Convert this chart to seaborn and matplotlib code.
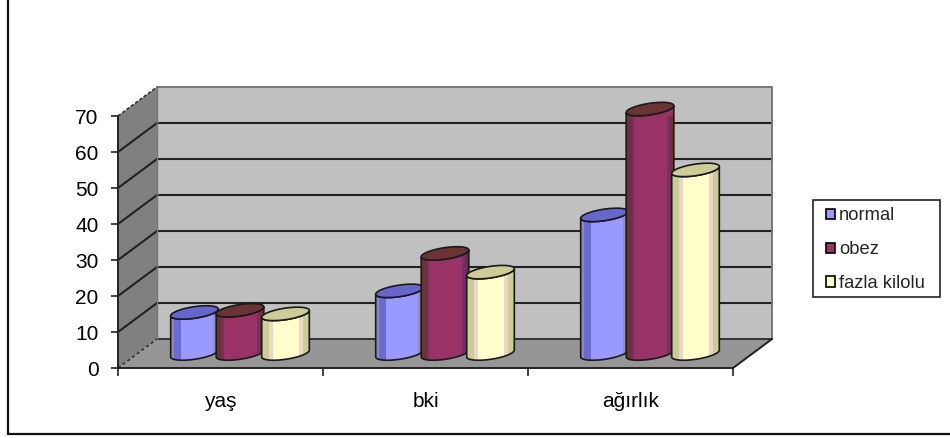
import numpy as np
import pandas as pd
import matplotlib
matplotlib.use("Agg")
import matplotlib.pyplot as plt
from matplotlib.lines import Line2D
from matplotlib.patches import Polygon, Rectangle
from matplotlib.path import Path
from matplotlib.transforms import Affine2D
import seaborn as sns

# Measurements by group
categories = ["yaş", "bki", "ağırlık"]
normal = [11.4, 17.4, 38.5]
obez = [12.0, 27.8, 67.9]
fazla_kilolu = [11.0, 22.6, 51.0]

series_names = ["normal", "obez", "fazla kilolu"]
series_values = [normal, obez, fazla_kilolu]

# Cylinder shading: main face and top cap for each series
face_colors = {"normal": "#9999ff", "obez": "#993366", "fazla kilolu": "#ffffcc"}
cap_colors = {"normal": "#6666cc", "obez": "#6b3333", "fazla kilolu": "#cccc99"}
# Vertical bands across the body, as (from, to, colour) in units of the cylinder radius
body_bands = {
    "normal": [(-1.0, -0.85, "#8a8ab8"), (-0.85, -0.58, "#6c6cd0"), (0.78, 1.0, "#8f8fbb")],
    "obez": [(-1.0, -0.77, "#6b3333"), (-0.77, -0.66, "#7b2d6b"),
             (0.72, 0.86, "#7b2d6b"), (0.86, 1.0, "#6b3333")],
    "fazla kilolu": [(-1.0, -0.70, "#cccc99"), (-0.70, -0.52, "#ecd6c6"),
                     (0.57, 0.75, "#ecd6c6"), (0.75, 1.0, "#cccc99")],
}

df = pd.DataFrame(
    [
        {"grup": cat, "seri": name, "deger": val}
        for name, vals in zip(series_names, series_values)
        for cat, val in zip(categories, vals)
    ]
)

W, H = 950, 438
sns.set_theme(style="white", rc={"font.family": ["Liberation Sans", "DejaVu Sans"]})
plt.rcParams["font.family"] = ["Liberation Sans", "DejaVu Sans"]

fig = plt.figure(figsize=(W / 100, H / 100), dpi=100, facecolor="white")
ax = fig.add_axes([118 / W, 1 - 368 / H, (733 - 118) / W, (368 - 116) / H])

sns.barplot(
    data=df, x="grup", y="deger", hue="seri", order=categories,
    hue_order=series_names, palette=face_colors, saturation=1,
    width=0.666, gap=0, edgecolor="black", linewidth=1.2, ax=ax,
)
ax.set_xlim(-0.5, 2.5)
ax.set_ylim(0, 70)
ax.patch.set_visible(False)
ax.set_xlabel("")
ax.set_ylabel("")

# Depth of the chart box, in screen pixels
DEPTH_X, DEPTH_Y = 39, 29
mid = ax.transData + Affine2D().translate(DEPTH_X / 2, DEPTH_Y / 2)

X0, X1 = -0.5, 2.5
Y_MAX = 70
dx_data = DEPTH_X / 205.0
dy_data = DEPTH_Y / (252.0 / 70)


def add_poly(points, color, z):
    poly = Polygon(points, closed=True, facecolor=color, edgecolor="none",
                   transform=ax.transData, clip_on=False, zorder=z)
    ax.add_patch(poly)
    return poly


bars = [p for p in ax.patches if p.get_height() > 0]

# Left wall, back wall and floor
add_poly([(X0, 0), (X0 + dx_data, dy_data), (X0 + dx_data, Y_MAX + dy_data), (X0, Y_MAX)], "#808080", 0.1)
add_poly([(X0 + dx_data, dy_data), (X1 + dx_data, dy_data),
          (X1 + dx_data, Y_MAX + dy_data), (X0 + dx_data, Y_MAX + dy_data)], "#c0c0c0", 0.1)
add_poly([(X0, 0), (X1, 0), (X1 + dx_data, dy_data), (X0 + dx_data, dy_data)], "#969696", 0.1)

# Gridlines run along the left wall, then across the back wall
ticks = np.arange(0, 80, 10)
for t in ticks[1:-1]:
    ax.plot([X0, X0 + dx_data, X1 + dx_data], [t, t + dy_data, t + dy_data],
            color="#222222", lw=1.5, clip_on=False, zorder=0.2, solid_joinstyle="miter")
ax.plot([X0 + dx_data, X1 + dx_data, X1 + dx_data, X1],
        [Y_MAX + dy_data, Y_MAX + dy_data, dy_data, 0],
        color="#707070", lw=1.3, clip_on=False, zorder=0.2)
ax.plot([X0, X0 + dx_data], [0, dy_data],
        color="#333333", lw=1.2, ls=(0, (2, 1.5)), clip_on=False, zorder=0.2)
ax.plot([X0 + dx_data, X1 + dx_data], [dy_data, dy_data], color="#333333", lw=1.4,
        clip_on=False, zorder=0.2)
ax.plot([X0 + dx_data, X0 + dx_data], [dy_data, Y_MAX + dy_data], color="#777777", lw=1,
        clip_on=False, zorder=0.2)
ax.plot([X0, X0 + dx_data], [Y_MAX, Y_MAX + dy_data], color="#333333", lw=1.2,
        ls=(0, (2, 1.2)), clip_on=False, zorder=0.2)
ax.plot([X1, X1 + dx_data], [0, dy_data], color="#222222", lw=1.3, clip_on=False, zorder=0.2)

# Cylinder outline in data units: an ellipse sheared to climb to the right
SEMI_A = 23.8 / 205.0
SEMI_B = 5.8 / (252.0 / 70)
RISE = 3.4 / (252.0 / 70)
theta = np.linspace(0, 2 * np.pi, 90)


def ring(cx, cy):
    return (cx + SEMI_A * np.cos(theta), cy + SEMI_B * np.sin(theta) + RISE * np.cos(theta))


def silhouette(cx, top):
    half = np.linspace(np.pi, 2 * np.pi, 45)
    bottom_x = cx + SEMI_A * np.cos(half)
    bottom_y = SEMI_B * np.sin(half) + RISE * np.cos(half)
    top_x = bottom_x[::-1]
    top_y = top + bottom_y[::-1]
    return np.column_stack([np.r_[bottom_x, top_x], np.r_[bottom_y, top_y]])


for i, name in enumerate(series_names):
    for j in range(len(categories)):
        bar = bars[i * len(categories) + j]
        z = 1 + i * 0.1 + j * 0.001
        cx = bar.get_x() + bar.get_width() / 2
        top = bar.get_height()
        outline = silhouette(cx, top)
        clip = Path(outline)

        body = Polygon(outline, closed=True, facecolor=face_colors[name], edgecolor="none",
                       transform=mid, clip_on=False, zorder=z)
        ax.add_patch(body)

        # Move the library's bar to mid-depth and trim it to the round body
        bar.set_transform(mid)
        bar.set_edgecolor("none")
        bar.set_zorder(z + 0.001)
        bar.set_clip_path(clip, mid)

        # Vertical shading bands on both rims
        for a, b, col in body_bands[name]:
            band = Rectangle((cx + a * SEMI_A, -2), (b - a) * SEMI_A, top + 6, facecolor=col,
                             edgecolor="none", transform=mid, zorder=z + 0.002)
            ax.add_patch(band)
            band.set_clip_path(clip, mid)

        edge = Polygon(outline, closed=True, fill=False, edgecolor="#1a1a1a", lw=1.2,
                       transform=mid, clip_on=False, zorder=z + 0.003)
        ax.add_patch(edge)
        rx, ry = ring(cx, top)
        cap = Polygon(np.column_stack([rx, ry]), closed=True, facecolor=cap_colors[name],
                      edgecolor="#1a1a1a", lw=1.2, transform=mid, clip_on=False, zorder=z + 0.004)
        ax.add_patch(cap)

# Axes: value ticks on the front left edge, group ticks between the categories
sns.despine(ax=ax, top=True, right=True)
for side in ("left", "bottom"):
    ax.spines[side].set_color("#222222")
    ax.spines[side].set_linewidth(1.4)
    ax.spines[side].set_zorder(0.5)
ax.set_yticks(ticks)
ax.tick_params(axis="y", which="major", length=5, width=1.2, color="#222222", labelsize=15,
               labelcolor="black", pad=9, left=True)
ax.set_xticks(np.arange(len(categories)))
ax.set_xticklabels(categories)
ax.set_xticks([-0.5, 0.5, 1.5, 2.5], minor=True)
ax.tick_params(axis="x", which="major", length=0, labelsize=15, labelcolor="black", pad=17)
ax.tick_params(axis="x", which="minor", length=6, width=1.2, color="#222222", bottom=True)

# Legend entries without their own frame; the box around them is a separate rectangle
sns.move_legend(
    ax, loc="upper left", bbox_to_anchor=(826 / W, 1 - 207.5 / H), bbox_transform=fig.transFigure,
    title=None, frameon=False, fontsize=13.2, handlelength=0.5, handleheight=0.5,
    handletextpad=0.2, labelspacing=0.92, borderpad=0, borderaxespad=0,
)
ax.get_legend().set_zorder(5)
fig.add_artist(Rectangle((813 / W, 1 - 297 / H), 127 / W, 97 / H, transform=fig.transFigure,
                         facecolor="none", edgecolor="#222222", lw=1.2))

# Chart area frame, open at the top and right
fig.add_artist(Line2D([7.5 / W, 7.5 / W], [1 - 434 / H, 1], color="#111111", lw=1.6))
fig.add_artist(Line2D([7.5 / W, 1], [1 - 434 / H, 1 - 434 / H], color="#111111", lw=1.6))

fig.savefig("out.png", dpi=100, facecolor="white")
